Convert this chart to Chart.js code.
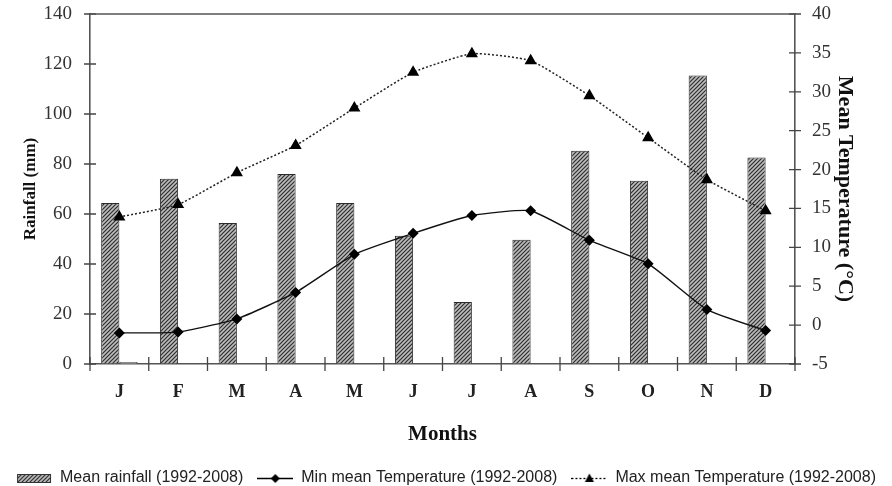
<!DOCTYPE html>
<html>
<head>
<meta charset="utf-8">
<script src="https://cdn.jsdelivr.net/npm/chart.js@4.4.1/dist/chart.umd.min.js"></script>
<style>
  html, body { margin: 0; padding: 0; background: #fff; }
  #wrap { width: 892px; height: 486px; }
</style>
</head>
<body>
<div id="wrap"><canvas id="climate" width="892" height="486"></canvas></div>
<script>
// Data
const months = ['J', 'F', 'M', 'A', 'M', 'J', 'J', 'A', 'S', 'O', 'N', 'D'];
const rainfall = [64.4, 74.1, 56.4, 76, 64.4, 51.3, 24.8, 49.7, 85.3, 73.3, 115.4, 82.6];
const strayBar = [0.8, null, null, null, null, null, null, null, null, null, null, null];
const minTemp = [-1.0, -0.9, 0.8, 4.2, 9.1, 11.8, 14.1, 14.7, 10.9, 7.9, 2.0, -0.7];
const maxTemp = [13.9, 15.5, 19.6, 23.1, 27.9, 32.5, 34.9, 34.0, 29.5, 24.1, 18.7, 14.7];
const rainTicks = [0, 140, 20];
const tempTicks = [-5, 40, 5];
const legendNames = ['Mean rainfall (1992-2008)', '', 'Min mean Temperature (1992-2008)', 'Max mean Temperature (1992-2008)'];

// hatched fill for the rainfall bars
function makeHatch() {
    const p = document.createElement('canvas');
    p.width = 4; p.height = 4;
    const c = p.getContext('2d');
    c.fillStyle = '#bcbcbc';
    c.fillRect(0, 0, 4, 4);
    c.strokeStyle = '#2e2e2e';
    c.lineWidth = 1.2;
    c.beginPath();
    c.moveTo(0, 4); c.lineTo(4, 0);
    c.moveTo(-1, 1); c.lineTo(1, -1);
    c.moveTo(3, 5); c.lineTo(5, 3);
    c.stroke();
    return c.createPattern(p, 'repeat');
}
const hatch = makeHatch();

// small canvases used as legend symbols
function legendIcon(kind) {
    const cv = document.createElement('canvas');
    cv.width = 36; cv.height = 12;
    const c = cv.getContext('2d');
    if (kind === 'bar') {
        c.fillStyle = hatch;
        c.fillRect(1, 2, 34, 9);
        c.strokeStyle = '#333';
        c.lineWidth = 1;
        c.strokeRect(1.5, 2.5, 33, 8);
        return cv;
    }
    c.strokeStyle = '#000';
    c.lineWidth = kind === 'min' ? 1.4 : 1.3;
    if (kind === 'max') c.setLineDash([2, 2]);
    c.beginPath(); c.moveTo(0, 6.5); c.lineTo(36, 6.5); c.stroke();
    c.setLineDash([]);
    c.fillStyle = '#000';
    c.beginPath();
    if (kind === 'min') {
        c.moveTo(18, 2); c.lineTo(22.5, 6.5); c.lineTo(18, 11); c.lineTo(13.5, 6.5);
    } else {
        c.moveTo(18, 1.5); c.lineTo(22.5, 10); c.lineTo(13.5, 10);
    }
    c.closePath(); c.fill();
    return cv;
}
const icons = [legendIcon('bar'), null, legendIcon('min'), legendIcon('max')];

// tick marks that cross the axis lines, plus the top frame line
const crossTicks = {
    id: 'crossTicks',
    afterDraw(chart) {
        const { ctx, chartArea, scales } = chart;
        ctx.save();
        ctx.strokeStyle = '#444';
        ctx.lineWidth = 1.3;
        ctx.beginPath();
        scales.y.ticks.forEach((t, i) => {
            const py = scales.y.getPixelForTick(i);
            ctx.moveTo(chartArea.left - 6, py); ctx.lineTo(chartArea.left + 6, py);
        });
        scales.y1.ticks.forEach((t, i) => {
            const py = scales.y1.getPixelForTick(i);
            ctx.moveTo(chartArea.right - 6, py); ctx.lineTo(chartArea.right + 6, py);
        });
        const half = (scales.x.getPixelForValue(1) - scales.x.getPixelForValue(0)) / 2;
        for (let i = 0; i <= months.length; i++) {
            const px = scales.x.getPixelForValue(i) - half;
            ctx.moveTo(px, chartArea.bottom - 7); ctx.lineTo(px, chartArea.bottom + 7);
        }
        ctx.stroke();
        ctx.strokeStyle = '#555';
        ctx.lineWidth = 1.6;
        ctx.beginPath();
        ctx.moveTo(chartArea.left, chartArea.top); ctx.lineTo(chartArea.right, chartArea.top);
        ctx.stroke();
        ctx.restore();
    }
};

const serif = "'Liberation Serif', 'Times New Roman', serif";
const hiddenTicks = { drawOnChartArea: false, tickColor: 'rgba(0,0,0,0)' };

new Chart(document.getElementById('climate'), {
    type: 'bar',
    data: {
        labels: months,
        datasets: [{
            label: legendNames[0],
            data: rainfall,
            backgroundColor: hatch,
            borderColor: '#2a2a2a',
            borderWidth: 1,
            yAxisID: 'y',
            order: 2
        }, {
            label: legendNames[1],
            data: strayBar,
            backgroundColor: '#fff',
            borderColor: '#333',
            borderWidth: 1,
            yAxisID: 'y',
            order: 2
        }, {
            type: 'line',
            label: legendNames[2],
            data: minTemp,
            yAxisID: 'y1',
            borderColor: '#111',
            borderWidth: 1.4,
            tension: 0.15,
            pointStyle: 'rectRot',
            pointRadius: 4.5,
            pointBackgroundColor: '#000',
            pointBorderColor: '#000',
            order: 1
        }, {
            type: 'line',
            label: legendNames[3],
            data: maxTemp,
            yAxisID: 'y1',
            borderColor: '#222',
            borderWidth: 1.5,
            borderDash: [2, 2],
            tension: 0.15,
            pointStyle: 'triangle',
            pointRadius: 5.5,
            pointBackgroundColor: '#000',
            pointBorderColor: '#000',
            order: 1
        }]
    },
    options: {
        responsive: false,
        animation: false,
        devicePixelRatio: 1,
        categoryPercentage: 0.62,
        barPercentage: 1,
        layout: { padding: { top: 14, left: 0, right: 0, bottom: -10 } },
        plugins: {
            tooltip: { enabled: false },
            legend: {
                position: 'bottom',
                labels: {
                    usePointStyle: true,
                    pointStyleWidth: 36,
                    padding: 14,
                    color: '#222',
                    font: { family: "'Liberation Sans', Arial, sans-serif", size: 16 },
                    filter: (item) => item.datasetIndex !== 1,
                    sort: (a, b) => a.datasetIndex - b.datasetIndex,
                    generateLabels: (chart) => {
                        const items = Chart.defaults.plugins.legend.labels.generateLabels(chart);
                        items.forEach(it => { it.pointStyle = icons[it.datasetIndex]; });
                        return items;
                    }
                }
            }
        },
        scales: {
            x: {
                offset: true,
                grid: { ...hiddenTicks, display: true, offset: true, tickLength: 18 },
                border: { color: '#555', width: 1.6 },
                ticks: { padding: 0, color: '#222', font: { family: serif, size: 18, weight: 'bold' } },
                title: { display: true, text: 'Months', color: '#111', padding: { top: 0, bottom: 9 }, font: { family: serif, size: 21, weight: 'bold' } },
                afterFit: (s) => { s.height = 92; }
            },
            y: {
                position: 'left',
                min: rainTicks[0],
                max: rainTicks[1],
                ticks: { stepSize: rainTicks[2], padding: 0, color: '#333', font: { family: serif, size: 19 } },
                grid: { ...hiddenTicks, tickLength: 18 },
                border: { color: '#555', width: 1.6 },
                title: { display: true, text: 'Rainfall (mm)', color: '#111', padding: { top: 20, bottom: 0 }, font: { family: serif, size: 17, weight: 'bold' } },
                afterFit: (s) => { s.width = 90; }
            },
            y1: {
                position: 'right',
                min: tempTicks[0],
                max: tempTicks[1],
                ticks: { stepSize: tempTicks[2], padding: 0, color: '#333', font: { family: serif, size: 19 } },
                grid: { ...hiddenTicks, tickLength: 17 },
                border: { color: '#555', width: 1.6 },
                title: { display: true, text: 'Mean Temperature (°C)', color: '#111', padding: { top: 34, bottom: 0 }, font: { family: serif, size: 22, weight: 'bold' } },
                afterFit: (s) => { s.width = 97; }
            }
        }
    },
    plugins: [crossTicks]
});
</script>
</body>
</html>
